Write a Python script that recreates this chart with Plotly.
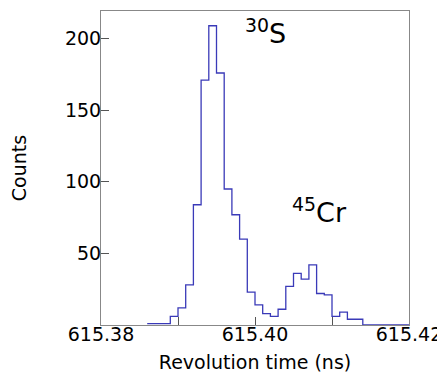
import numpy as np
import plotly.graph_objects as go

# Histogram data (bin width 0.001 ns)
bin_start = 615.386
bin_width = 0.001
counts = [1, 1, 1, 6, 12, 28, 84, 171, 209, 176, 95, 77, 60, 23, 14, 8, 6,
          11, 27, 36, 32, 42, 22, 21, 6, 9, 4, 4, 0, 0, 0, 0, 0, 0]

x_ticks = [615.38, 615.39, 615.40, 615.41, 615.42]
x_ticktext = ["615.38", "", "615.40", "", "615.42"]
y_ticks = [50, 100, 150, 200]

labels = ["<sup>30</sup>S", "<sup>45</sup>Cr"]
label_x = [615.4013, 615.4084]
label_y = [205, 80]

edges = [round(bin_start + i * bin_width, 4) for i in range(len(counts) + 1)]
xs = edges
ys = counts + [counts[-1]]

font = "DejaVu Sans"
fig = go.Figure()
fig.add_trace(go.Scatter(x=xs, y=ys, mode="lines", line_shape="hv",
                         line=dict(color="#3a3ab8", width=1.3),
                         showlegend=False, hoverinfo="skip"))

for t, x, y in zip(labels, label_x, label_y):
    fig.add_annotation(x=x, y=y, text=t, showarrow=False,
                       font=dict(family=font, size=27, color="black"),
                       xanchor="center", yanchor="middle")

# page body has an 8px margin, so the figure is sized/offset to compensate
fig.update_layout(
    width=437, height=367,
    margin=dict(l=93, r=36, t=3, b=50),
    paper_bgcolor="white", plot_bgcolor="white",
    font=dict(family=font, size=19, color="black"),
)
fig.update_xaxes(range=[615.38, 615.42], tickvals=x_ticks, ticktext=x_ticktext,
                 ticks="inside", ticklen=8, tickcolor="#555", tickwidth=1,
                 showline=True, mirror=True, linecolor="#888", linewidth=1,
                 showgrid=False, zeroline=False, automargin=False,
                 ticklabelstandoff=-8,
                 title=dict(text="Revolution time (ns)", font=dict(size=19), standoff=11))
fig.update_yaxes(range=[0, 219.3], tickvals=y_ticks,
                 ticks="inside", ticklen=8, tickcolor="#555", tickwidth=1,
                 showline=True, mirror=True, linecolor="#888", linewidth=1,
                 showgrid=False, zeroline=False, automargin=False,
                 ticklabelstandoff=-5,
                 title=dict(text="Counts", font=dict(size=19), standoff=35))

fig.write_html("out.html")
